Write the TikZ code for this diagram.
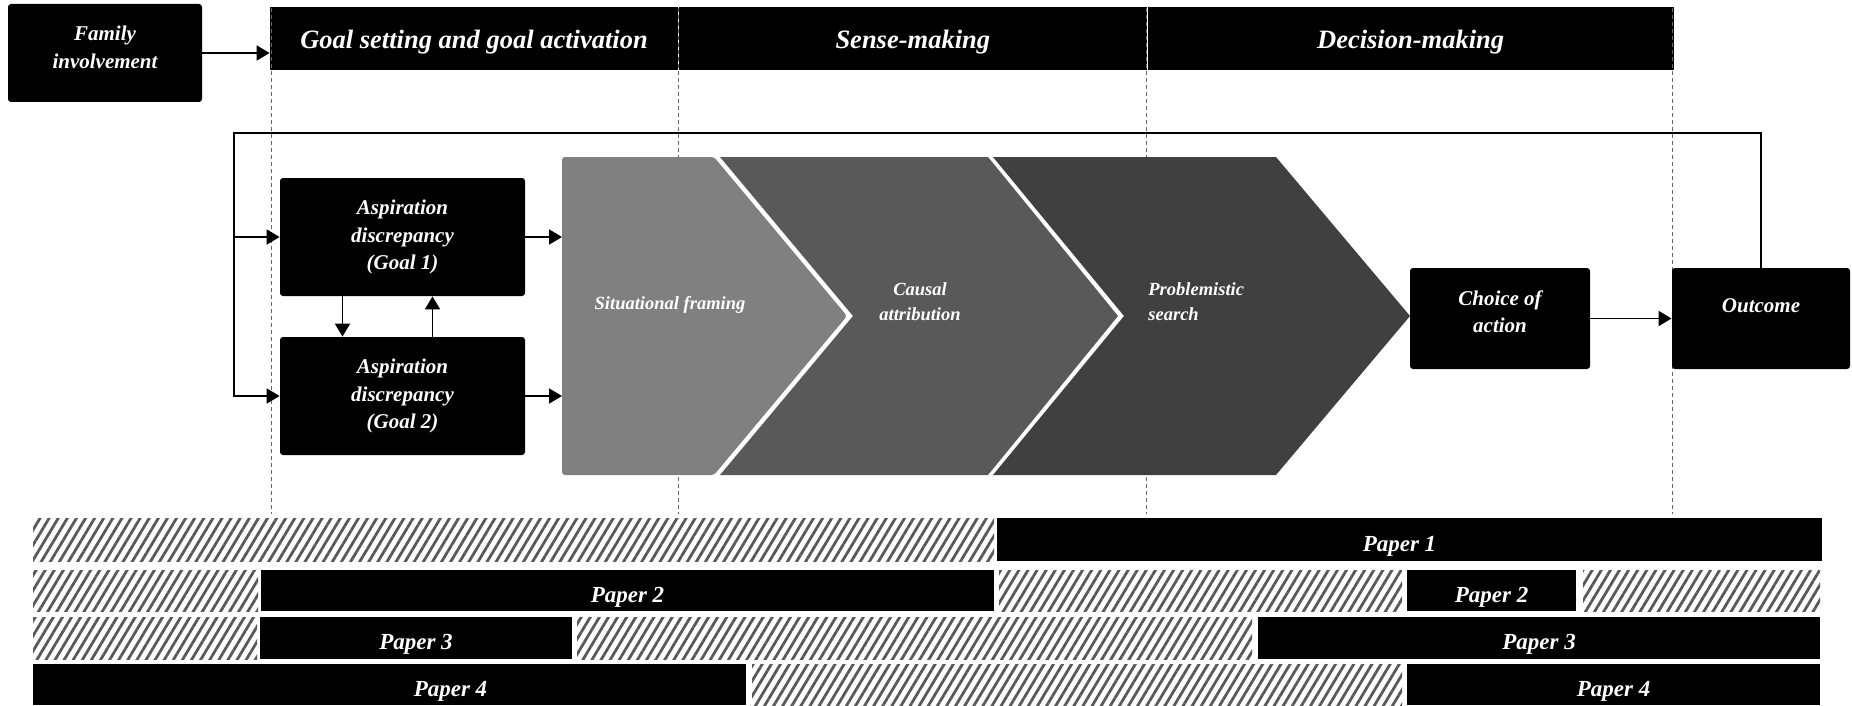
\documentclass[tikz,border=0pt]{standalone}
\usepackage{fontspec}
\setmainfont{Liberation Serif}
\usetikzlibrary{arrows.meta}
\usetikzlibrary{patterns.meta}
\usetikzlibrary{positioning}
\tikzset{darkbox/.style={ % black boxes of the process
fill=black, text=white, inner sep=0pt,
rounded corners=1.5pt, align=center,
font=\fontsize{10.5}{13.8}\selectfont\bfseries\itshape},
hdrbox/.style={ % phase headers
fill=black, text=white, inner sep=0pt, minimum height=31.5pt,
text height=12.7pt, text depth=3pt,
font=\fontsize{13.25}{16}\selectfont\bfseries\itshape},
paperbar/.style={ % covered by a paper
fill=black, text=white, inner sep=0pt, text height=14pt,
font=\fontsize{11.5}{14}\selectfont\bfseries\itshape},
hatchbar/.style={ % not covered
inner sep=0pt,
pattern={Lines[angle=59,distance=3.9pt,line width=1.4pt]},
pattern color=black!65},
chevtext/.style={text=white, align=center, inner sep=0pt,
font=\fontsize{9.25}{12.5}\selectfont\bfseries\itshape},
arr/.style={draw, line width=0.9pt,
-{Triangle[length=6.5pt,width=7.5pt]}},
phase/.style={draw=black!60, line width=0.4pt,
dash pattern=on 2pt off 1.5pt}}

\begin{document}
\begin{tikzpicture}[x=0.5pt,y=-0.5pt]
                \useasboundingbox (0,0) rectangle (1852,706);
                % headers
                \node[darkbox, minimum width=97pt, minimum height=49pt, text depth=6pt] (family) at (105,53) {Family\\involvement};
                \node[hdrbox, minimum width=204pt] (goalhdr) at (474,38.5) {Goal setting and goal activation};
                \node[hdrbox, minimum width=234pt, right=0pt of goalhdr] (sensehdr) {Sense-making};
                \node[hdrbox, minimum width=263pt, right=0pt of sensehdr] (dechdr) {Decision-making};
                \foreach \x in {271,678,1146,1672}
                    \draw[phase] (\x,8) -- (\x,514);

                % chevrons
                \fill[black!50, rounded corners=1.5pt] (562,157) -- (714,157) -- (847,316) -- (714,475) -- (562,475) -- cycle;
                \fill[black!65] (720,157) -- (988,157) -- (1118,316) -- (988,475) -- (720,475) -- (853,316) -- cycle;
                \fill[black!75] (993,157) -- (1276,157) -- (1410,316) -- (1276,475) -- (993,475) -- (1124,316) -- cycle;
                \coordinate (framingw) at (562,316);
                \node[chevtext] (framing) at (670,305) {Situational framing};
                \node[chevtext] (causal) at (920,302) {Causal\\attribution};
                \node[chevtext, align=left, anchor=west] (search) at (1148,302) {Problemistic\\search};

                % boxes
                \node[darkbox, minimum width=122.5pt, minimum height=59pt] (goal1) at (402.5,237) {Aspiration\\discrepancy\\(Goal 1)};
                \node[darkbox, minimum width=122.5pt, minimum height=59pt] (goal2) at (402.5,396) {Aspiration\\discrepancy\\(Goal 2)};
                \node[darkbox, minimum width=90pt, minimum height=50.5pt, text depth=7pt] (choice) at (1500,318.5) {Choice of\\action};
                \node[darkbox, minimum width=89pt, minimum height=50.5pt, text depth=13pt] (outcome) at (1761,318.5) {Outcome};

                % connectors
                \coordinate (loopnw) at (234,133);
                \draw[arr] (family) -- (family -| goalhdr.west);
                \draw[arr] ([xshift=-30pt]goal1.south) -- ([xshift=-30pt]goal2.north);
                \draw[arr] ([xshift=15pt]goal2.north) -- ([xshift=15pt]goal1.south);
                \draw[arr] (goal1.east) -- (goal1.east -| framingw);
                \draw[arr] (goal2.east) -- (goal2.east -| framingw);
                \draw[arr] (choice) -- (outcome);
                \draw[arr] (outcome.north) |- (loopnw) |- (goal2.west);
                \draw[arr] (loopnw |- goal1.west) -- (goal1.west);

                % papers
                \node[hatchbar, minimum width=480.5pt, minimum height=21.5pt] (h1) at (513.5,539.5) {};
                \node[paperbar, minimum width=412.5pt, minimum height=21.5pt] (p1) at (1409.5,539.5) {Paper 1\hspace*{10pt}};
                \node[hatchbar, minimum width=112.5pt, minimum height=20.5pt] (h2a) at (145.5,590.5) {};
                \node[paperbar, minimum width=366.5pt, minimum height=20.5pt] (p2a) at (627.5,590.5) {Paper 2};
                \node[hatchbar, minimum width=201.5pt, minimum height=20.5pt] (h2b) at (1200.5,590.5) {};
                \node[paperbar, minimum width=84.5pt, minimum height=20.5pt] (p2b) at (1491.5,590.5) {Paper 2};
                \node[hatchbar, minimum width=118.5pt, minimum height=20.5pt] (h2c) at (1701.5,590.5) {};
                \node[hatchbar, minimum width=112pt, minimum height=21pt] (h3a) at (145,638) {};
                \node[paperbar, minimum width=156pt, minimum height=21pt] (p3a) at (416,638) {Paper 3};
                \node[hatchbar, minimum width=337.5pt, minimum height=21pt] (h3b) at (914.5,638) {};
                \node[paperbar, minimum width=281pt, minimum height=21pt] (p3b) at (1539,638) {Paper 3};
                \node[paperbar, minimum width=356.5pt, minimum height=20.5pt] (p4a) at (389.5,684.5) {\hspace*{61pt}Paper 4};
                \node[hatchbar, minimum width=325pt, minimum height=20.5pt] (h4) at (1077,684.5) {};
                \node[paperbar, minimum width=206.5pt, minimum height=20.5pt] (p4b) at (1613.5,684.5) {Paper 4};
            \end{tikzpicture}
\end{document}
